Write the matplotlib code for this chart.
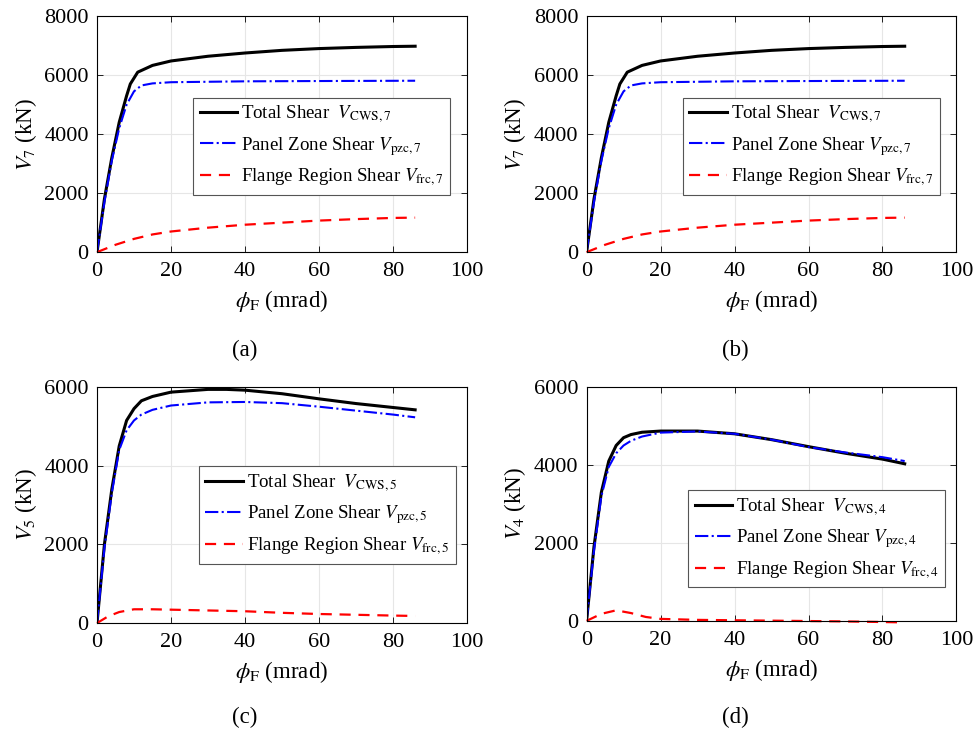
import matplotlib
matplotlib.use('Agg')
import matplotlib.pyplot as plt

plt.rcParams['font.family'] = ['Liberation Serif', 'DejaVu Serif']
plt.rcParams['mathtext.fontset'] = 'stix'

# panel (a) / (b): level 7
phi_7 = [0, 2, 4, 6, 8, 9, 11, 15, 20, 30, 40, 50, 60, 70, 80, 86]
tot_7 = [0, 1800, 3200, 4400, 5300, 5700, 6100, 6330, 6480, 6640, 6750, 6840, 6900, 6940, 6970, 6980]
phi_7p = [0, 2, 4, 6, 8, 10, 12, 15, 20, 40, 60, 86]
pzc_7 = [0, 1700, 3100, 4200, 5000, 5450, 5650, 5720, 5760, 5790, 5800, 5810]
phi_7f = [0, 5, 10, 15, 20, 30, 40, 50, 60, 70, 80, 86]
frc_7 = [0, 250, 450, 600, 700, 830, 930, 1000, 1070, 1120, 1160, 1170]

# panel (c): level 5
phi_5 = [0, 2, 4, 6, 8, 10, 12, 15, 20, 30, 35, 40, 50, 60, 70, 80, 86]
tot_5 = [0, 2000, 3400, 4500, 5150, 5450, 5650, 5760, 5870, 5940, 5940, 5920, 5830, 5700, 5580, 5480, 5420]
phi_5p = [0, 2, 4, 6, 8, 10, 12, 15, 20, 30, 40, 50, 60, 70, 80, 86]
pzc_5 = [0, 1900, 3300, 4400, 4900, 5150, 5300, 5420, 5530, 5610, 5620, 5590, 5500, 5400, 5300, 5230]
phi_5f = [0, 3, 6, 10, 15, 20, 30, 40, 50, 60, 70, 80, 86]
frc_5 = [0, 170, 280, 350, 350, 340, 320, 300, 260, 230, 210, 190, 180]

# panel (d): level 4
phi_4 = [0, 2, 4, 6, 8, 10, 12, 15, 20, 30, 40, 50, 60, 70, 80, 86]
tot_4 = [0, 1900, 3300, 4100, 4500, 4700, 4780, 4840, 4870, 4870, 4800, 4650, 4470, 4300, 4150, 4030]
pzc_4 = [0, 1800, 3200, 3950, 4300, 4500, 4620, 4730, 4830, 4860, 4800, 4650, 4460, 4320, 4200, 4100]
phi_4f = [0, 4, 8, 12, 16, 20, 30, 40, 50, 60, 70, 80, 86]
frc_4 = [0, 180, 270, 200, 100, 50, 25, 15, 5, -5, -15, -30, -40]

panels = [
    ('7', phi_7, tot_7, phi_7p, pzc_7, phi_7f, frc_7, 8000, (0.955, 0.655), '(a)'),
    ('7', phi_7, tot_7, phi_7p, pzc_7, phi_7f, frc_7, 8000, (0.955, 0.655), '(b)'),
    ('5', phi_5, tot_5, phi_5p, pzc_5, phi_5f, frc_5, 6000, (0.97, 0.665), '(c)'),
    ('4', phi_4, tot_4, phi_4, pzc_4, phi_4f, frc_4, 6000, (0.97, 0.56), '(d)'),
]
rects = [
    [0.0994, 0.656, 0.379, 0.322],
    [0.601, 0.656, 0.379, 0.322],
    [0.0994, 0.150, 0.379, 0.322],
    [0.601, 0.153, 0.379, 0.319],
]
cap_pos = [(245, 350), (735, 350), (245, 717), (735, 717)]

fig = plt.figure(figsize=(9.76, 7.33), dpi=100)
for (lvl, x1, y1, x2, y2, x3, y3, ymax, anchor, cap), r, cp in zip(panels, rects, cap_pos):
    ax = fig.add_axes(r)
    ax.plot(x1, y1, '-', color='black', lw=2.2, label=r'Total Shear  $V_{\mathrm{CWS,' + lvl + '}}$')
    ax.plot(x2, y2, '-.', color='blue', lw=1.5, label=r'Panel Zone Shear $V_{\mathrm{pzc,' + lvl + '}}$')
    ax.plot(x3, y3, '--', color='red', lw=1.6, dashes=(5, 3.5),
            label=r'Flange Region Shear $V_{\mathrm{frc,' + lvl + '}}$', clip_on=False)
    ax.set_xlim(0, 100)
    ax.set_ylim(0, ymax)
    ax.set_xticks([0, 20, 40, 60, 80, 100])
    ax.set_yticks(range(0, ymax + 1, 2000))
    ax.grid(True, color='#e6e6e6', lw=0.8)
    ax.set_axisbelow(True)
    ax.tick_params(direction='in', top=True, right=True, labelsize=16, length=4, width=0.6)
    ax.tick_params(axis='x', pad=7)
    ax.tick_params(axis='y', pad=6)
    for s in ax.spines.values():
        s.set_linewidth(0.8)
    ax.set_xlabel(r'$\phi_{\mathrm{F}}$ (mrad)', fontsize=16.5, labelpad=5)
    ax.set_ylabel(r'$V_{' + lvl + '}$ (kN)', fontsize=16.5, labelpad=4)
    leg = ax.legend(loc='upper right', bbox_to_anchor=anchor, fontsize=13.6,
                    handlelength=2.0, handletextpad=0.2, borderpad=0.35,
                    labelspacing=0.5, fancybox=False, framealpha=1,
                    borderaxespad=0)
    leg.get_frame().set_edgecolor('#555555')
    leg.get_frame().set_linewidth(0.8)
    fig.text(cp[0] / 976, 1 - cp[1] / 733, cap, ha='center', va='center', fontsize=16.5)

fig.savefig('out.png', dpi=100)
